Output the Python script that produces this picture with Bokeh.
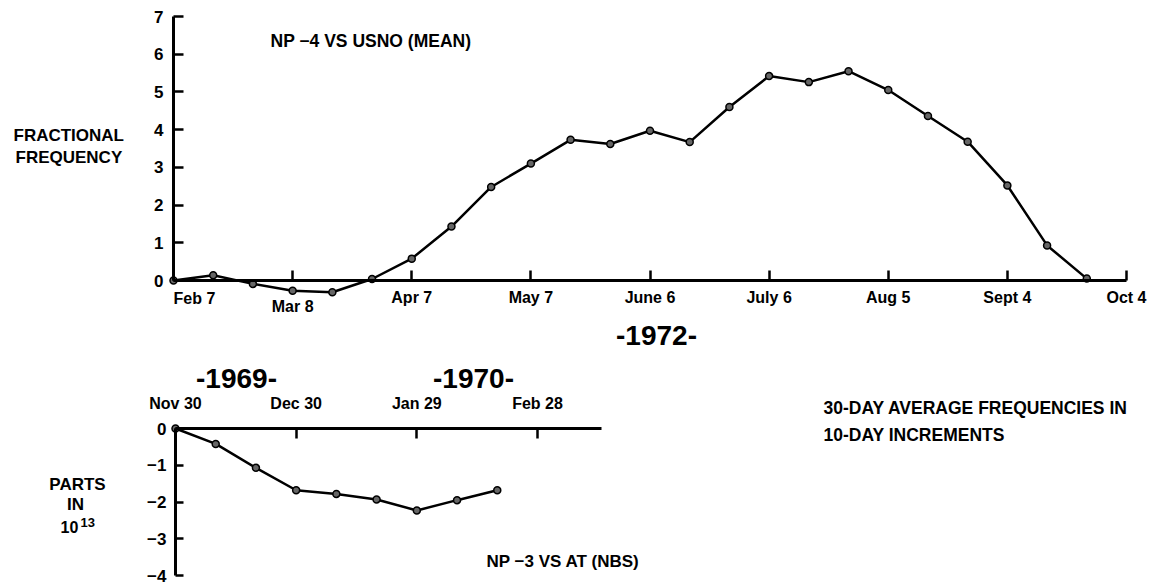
from bokeh.plotting import figure
from bokeh.models import Range1d, LinearAxis, FixedTicker, Label
from bokeh.embed import file_html
from bokeh.resources import INLINE

# ---------------- data ----------------
# NP-4 vs USNO (mean), 1972, 30-day averages every 10 days from Feb 7
top_days = [0, 10, 20, 30, 40, 50, 60, 70, 80, 90, 100, 110, 120, 130,
            140, 150, 160, 170, 180, 190, 200, 210, 220, 230]
top_vals = [0.0, 0.14, -0.09, -0.27, -0.31, 0.04, 0.58, 1.43, 2.48, 3.10,
            3.73, 3.62, 3.97, 3.67, 4.60, 5.42, 5.26, 5.55, 5.05, 4.36,
            3.68, 2.52, 0.93, 0.05]
top_tick_days = [0, 30, 60, 90, 120, 150, 180, 210, 240]
top_tick_labels = ["Feb 7", "Mar 8", "Apr 7", "May 7", "June 6", "July 6",
                   "Aug 5", "Sept 4", "Oct 4"]
top_y_ticks = [0, 1, 2, 3, 4, 5, 6, 7]

# NP-3 vs AT (NBS), 1969-1970, from Nov 30
bot_days = [0, 10, 20, 30, 40, 50, 60, 70, 80]
bot_vals = [0.0, -0.42, -1.07, -1.68, -1.78, -1.93, -2.23, -1.95, -1.68]
bot_tick_days = [0, 30, 60, 90]
bot_tick_labels = ["Nov 30", "Dec 30", "Jan 29", "Feb 28"]
bot_y_ticks = [0, -1, -2, -3, -4]
bot_y_labels = ["0", "\u22121", "\u22122", "\u22123", "\u22124"]

# ---------------- layout helpers ----------------
W, H = 1149, 584
FONT = "Liberation Sans"


def lin_range(v1, p1, v2, p2, start_px, end_px):
    k = (v2 - v1) / (p2 - p1)
    return Range1d(start=v1 + (start_px - p1) * k, end=v1 + (end_px - p1) * k)


# pixel anchors of the two charts
top_x = lin_range(0, 173, 240, 1126, 0, W)
top_y = lin_range(0, 280, 7, 16, H, 0)
bot_x = lin_range(0, 175, 90, 537, 0, W)
bot_y = lin_range(0, 428, -4, 575, H, 0)

p = figure(width=W, height=H, x_range=top_x, y_range=top_y,
           output_backend="svg", toolbar_location=None,
           x_axis_type=None, y_axis_type=None, min_border=0)
p.min_border_left = 0
p.min_border_right = 0
p.min_border_top = 0
p.min_border_bottom = 0
p.outline_line_color = None
p.background_fill_color = "white"
p.border_fill_color = "white"
p.extra_x_ranges = {"bx": bot_x, "px": Range1d(0, W)}
p.extra_y_ranges = {"by": bot_y, "px": Range1d(H, 0)}


def style_axis(ax, size, tick_len):
    ax.axis_line_width = 3
    ax.axis_line_color = "black"
    ax.major_tick_line_width = 2.5
    ax.major_tick_line_color = "black"
    ax.major_tick_in = tick_len
    ax.major_tick_out = 0
    ax.minor_tick_line_color = None
    ax.major_label_text_font = FONT
    ax.major_label_text_font_style = "bold"
    ax.major_label_text_font_size = size
    ax.major_label_text_color = "black"


# top chart axes
ax = LinearAxis(fixed_location=0, bounds=(0, 7),
                ticker=FixedTicker(ticks=top_y_ticks, minor_ticks=[]))
style_axis(ax, "17px", 10)
ax.major_label_standoff = 10
p.add_layout(ax, "left")

top_over = {d: lab for d, lab in zip(top_tick_days, top_tick_labels)}
top_over[top_tick_days[0]] = ""
top_over[top_tick_days[1]] = ""
ax = LinearAxis(fixed_location=0, bounds=(top_tick_days[0], top_tick_days[-1]),
                ticker=FixedTicker(ticks=top_tick_days, minor_ticks=[]),
                major_label_overrides=top_over)
style_axis(ax, "16px", 10)
ax.major_label_standoff = 8
p.add_layout(ax, "below")

# bottom chart axes
ax = LinearAxis(x_range_name="bx", y_range_name="by", fixed_location=0,
                bounds=(-4, 0),
                ticker=FixedTicker(ticks=bot_y_ticks, minor_ticks=[]),
                major_label_overrides=dict(zip(bot_y_ticks, bot_y_labels)))
style_axis(ax, "17px", 8)
ax.major_label_standoff = 9
p.add_layout(ax, "left")

ax = LinearAxis(x_range_name="bx", y_range_name="by", fixed_location=0,
                bounds=(0, 106),
                ticker=FixedTicker(ticks=bot_tick_days, minor_ticks=[]),
                major_label_overrides=dict(zip(bot_tick_days, bot_tick_labels)))
style_axis(ax, "16px", 10)
ax.major_label_standoff = 17
p.add_layout(ax, "above")

# data
p.line(top_days, top_vals, line_width=2.5, color="black")
p.scatter(top_days, top_vals, marker="circle", size=7, fill_color="#666666",
          line_color="black", line_width=1.5)
p.line(bot_days, bot_vals, x_range_name="bx", y_range_name="by",
       line_width=2.5, color="black")
p.scatter(bot_days, bot_vals, x_range_name="bx", y_range_name="by",
          marker="circle", size=7, fill_color="#666666",
          line_color="black", line_width=1.5)


def label(x, y, text, size="17px", align="left", xr="px", yr="px"):
    p.add_layout(Label(x=x, y=y, text=text, x_range_name=xr, y_range_name=yr,
                       text_font=FONT, text_font_style="bold",
                       text_font_size=size, text_align=align,
                       text_baseline="middle", text_color="black"))


# special tick labels of the top axis (offset as in the original)
label(top_tick_days[0], 298, top_tick_labels[0], "16px", "left", xr="default")
label(top_tick_days[1], 306, top_tick_labels[1], "16px", "center", xr="default")

# annotations (pixels)
label(270, 40, "NP \u22124 VS USNO (MEAN)", "17.5px")
label(13, 135, "FRACTIONAL")
label(15, 157, "FREQUENCY")
label(656, 335, "-1972-", "28px", "center")
label(236, 378, "-1969-", "28px", "center")
label(473, 378, "-1970-", "28px", "center")
label(823, 407, "30-DAY AVERAGE FREQUENCIES IN", "17.5px")
label(823, 434, "10-DAY INCREMENTS", "17.5px")
label(77, 484, "PARTS", "17px", "center")
label(75, 504, "IN", "17px", "center")
label(60, 526, "10", "16px", "left")
label(80, 522, "13", "13px", "left")
label(486, 561, "NP \u22123 VS AT (NBS)")

open("out.html", "w").write(file_html(p, INLINE))
